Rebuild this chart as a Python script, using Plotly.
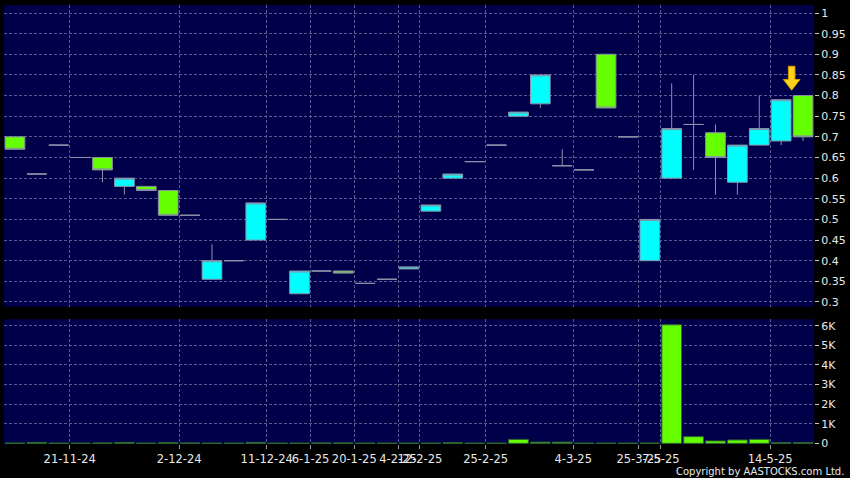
import plotly.graph_objects as go

# ---------------- data ----------------
opens  = [0.70, 0.61, 0.68, 0.65, 0.65, 0.58, 0.58, 0.57, 0.51, 0.355, 0.40, 0.45, 0.50,
          0.32, 0.375, 0.375, 0.345, 0.355, 0.38, 0.52, 0.60, 0.64, 0.68, 0.75, 0.78,
          0.63, 0.62, 0.90, 0.70, 0.40, 0.60, 0.73, 0.71, 0.59, 0.68, 0.69, 0.80]
highs  = [0.70, 0.61, 0.68, 0.65, 0.65, 0.60, 0.58, 0.57, 0.51, 0.44, 0.40, 0.54, 0.50,
          0.375, 0.375, 0.375, 0.345, 0.355, 0.385, 0.535, 0.61, 0.64, 0.68, 0.76, 0.85,
          0.67, 0.62, 0.90, 0.70, 0.50, 0.83, 0.85, 0.73, 0.68, 0.80, 0.79, 0.80]
lows   = [0.67, 0.61, 0.68, 0.65, 0.59, 0.56, 0.57, 0.51, 0.51, 0.355, 0.40, 0.45, 0.50,
          0.32, 0.375, 0.37, 0.345, 0.355, 0.38, 0.52, 0.60, 0.64, 0.68, 0.75, 0.77,
          0.63, 0.62, 0.77, 0.70, 0.40, 0.60, 0.62, 0.56, 0.56, 0.68, 0.68, 0.69]
closes = [0.67, 0.61, 0.68, 0.65, 0.62, 0.60, 0.57, 0.51, 0.51, 0.40, 0.40, 0.54, 0.50,
          0.375, 0.375, 0.37, 0.345, 0.355, 0.385, 0.535, 0.61, 0.64, 0.68, 0.76, 0.85,
          0.63, 0.62, 0.77, 0.70, 0.50, 0.72, 0.73, 0.65, 0.68, 0.72, 0.79, 0.70]
volumes = [15, 45, 10, 10, 20, 45, 10, 25, 20, 10, 10, 45, 10,
           10, 20, 20, 10, 10, 10, 10, 25, 10, 10, 200, 60,
           60, 10, 10, 10, 15, 6050, 340, 120, 170, 200, 30, 30]

# x-axis labels and the first session each label refers to
tick_labels = ["21-11-24", "2-12-24", "11-12-24", "6-1-25", "20-1-25", "4-2-25",
               "12-2-25", "25-2-25", "4-3-25", "25-3-25", "7-5-25", "14-5-25"]
tick_sessions = [3, 8, 12, 14, 16, 18, 19, 22, 26, 29, 30, 35]

price_ticks = [0.3, 0.35, 0.4, 0.45, 0.5, 0.55, 0.6, 0.65, 0.7, 0.75, 0.8, 0.85, 0.9, 0.95, 1.0]
price_labels = ["0.3", "0.35", "0.4", "0.45", "0.5", "0.55", "0.6", "0.65", "0.7",
                "0.75", "0.8", "0.85", "0.9", "0.95", "1"]
vol_ticks = [0, 1000, 2000, 3000, 4000, 5000, 6000]
vol_labels = ["0", "1K", "2K", "3K", "4K", "5K", "6K"]

# ---------------- styling ----------------
CYAN = "#00ffff"
LIME = "#66ff00"
EDGE = "#8c90a8"
NAVY = "#00004a"
GRID = "#5a5a90"
TXT = "#e8e8e8"
FONT = "DejaVu Sans"

n = len(opens)
idx = list(range(n))
up = [i for i in idx if closes[i] > opens[i]]
dn = [i for i in idx if closes[i] < opens[i]]
fl = [i for i in idx if closes[i] == opens[i]]


def candle(sel, fill):
    return go.Candlestick(
        x=sel,
        open=[opens[i] for i in sel], high=[highs[i] for i in sel],
        low=[lows[i] for i in sel], close=[closes[i] for i in sel],
        increasing=dict(fillcolor=fill, line=dict(color=EDGE, width=1)),
        decreasing=dict(fillcolor=fill, line=dict(color=EDGE, width=1)),
        whiskerwidth=0, hoverinfo="skip", xaxis="x", yaxis="y",
    )


fig = go.Figure()
fig.add_trace(candle(up, CYAN))
fig.add_trace(candle(dn, LIME))
fig.add_trace(candle(fl, EDGE))

fig.add_trace(go.Bar(
    x=idx, y=volumes, width=0.9,
    marker=dict(color=LIME, line=dict(color="#2e6a2e", width=1)),
    hoverinfo="skip", xaxis="x2", yaxis="y2",
))

tickvals_x = [s - 0.5 for s in tick_sessions]

xcommon = dict(
    range=[-0.5, n - 0.5], tickmode="array", tickvals=tickvals_x,
    showgrid=True, gridcolor=GRID, griddash="3px,2px", gridwidth=1,
    zeroline=False, showline=False, fixedrange=True, automargin=False,
)
ycommon = dict(
    side="right", tickmode="array", ticks="outside", ticklen=4, tickcolor="#c8c8c8",
    showgrid=True, gridcolor=GRID, griddash="3px,2px", zeroline=False,
    automargin=False, fixedrange=True, tickfont=dict(family=FONT, size=11, color=TXT),
)

fig.update_layout(
    width=850, height=478,
    margin=dict(l=4, r=36, t=5, b=34),
    paper_bgcolor="#000000", plot_bgcolor=NAVY,
    showlegend=False, boxgap=0.1, boxgroupgap=0,
    font=dict(family=FONT, size=11, color=TXT),
    xaxis=dict(**xcommon, anchor="y", domain=[0, 1], showticklabels=False,
               rangeslider=dict(visible=False)),
    xaxis2=dict(**xcommon, anchor="y2", domain=[0, 1], matches="x",
                ticktext=tick_labels, ticks="outside", ticklen=4, tickangle=0,
                tickcolor="#9a9a9a", tickfont=dict(family=FONT, size=11.5, color=TXT)),
    yaxis=dict(**ycommon, domain=[0.3128, 1], range=[0.2886, 1.0194], anchor="x",
               tickvals=price_ticks, ticktext=price_labels),
    yaxis2=dict(**ycommon, domain=[0, 0.284], range=[-35, 6330], anchor="x2",
                tickvals=vol_ticks, ticktext=vol_labels),
)

# yellow marker arrow above the latest session
last = n - 1
xc = last - 0.52
tip = highs[last] + 0.013
hb = tip + 0.026
top = tip + 0.058
sw, hw = 0.15, 0.38
path = (f"M {xc - sw},{top} L {xc + sw},{top} L {xc + sw},{hb} L {xc + hw},{hb} "
        f"L {xc},{tip} L {xc - hw},{hb} L {xc - sw},{hb} Z")
fig.add_shape(type="path", path=path, xref="x", yref="y",
              fillcolor="#ffd21a", line=dict(color="#d89a00", width=1))

fig.add_annotation(text="Copyright by AASTOCKS.com Ltd.", xref="paper", yref="paper",
                   x=1.0395, y=-0.063, xanchor="right", yanchor="middle",
                   showarrow=False, font=dict(family=FONT, size=10, color=TXT))

fig.write_html(
    "out.html",
    config={"displayModeBar": False, "staticPlot": True},
    post_script="document.body.style.margin='0';document.body.style.padding='0';"
                "document.body.style.background='#000';",
)
